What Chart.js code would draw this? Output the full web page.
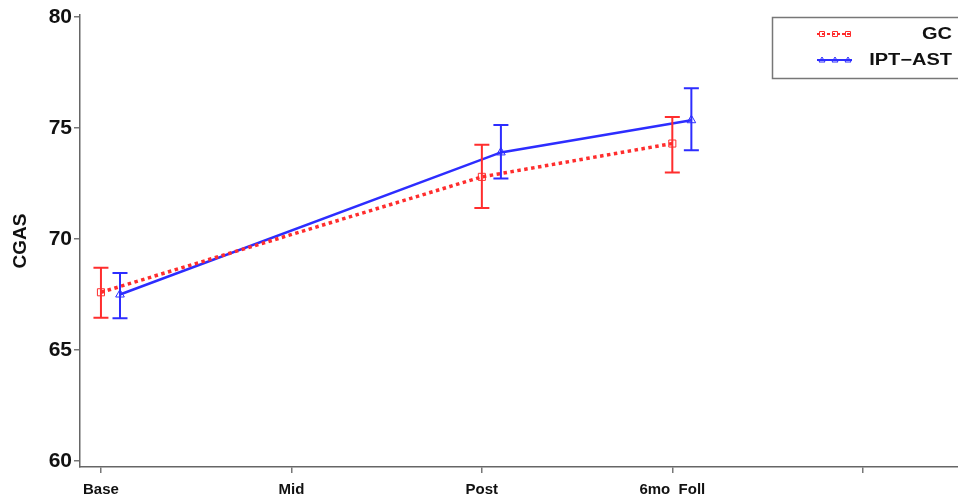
<!DOCTYPE html>
<html>
<head>
<meta charset="utf-8">
<script src="https://cdn.jsdelivr.net/npm/chart.js@4/dist/chart.umd.min.js"></script>
<style>
  html, body { margin: 0; padding: 0; background: #fff; }
  #wrap { width: 958px; height: 504px; }
</style>
</head>
<body>
<div id="wrap"><canvas id="chart" width="958" height="504"></canvas></div>
<script>
(function () {
    // categories on the x axis (last tick has no label)
    const categories = ['Base', 'Mid', 'Post', '6mo  Foll', ''];
    const timeIndex = [0, 2, 3];
    const yTicks = [60, 65, 70, 75, 80];

    // GC group
    const gcMean = [67.6, 72.8, 74.3];
    const gcLower = [66.45, 71.4, 73.0];
    const gcUpper = [68.7, 74.25, 75.5];

    // IPT-AST group
    const iptMean = [67.5, 73.9, 75.35];
    const iptLower = [66.43, 72.73, 74.0];
    const iptUpper = [68.47, 75.14, 76.79];

    const RED = 'rgb(255,45,45)';
    const BLUE = 'rgb(45,45,255)';
    const dodge = 0.1; // blue group drawn slightly to the right

    function points(means, shift) {
        return timeIndex.map((t, i) => ({x: t + shift, y: means[i]}));
    }

    // error bars drawn through the chart's own scales
    const errorBars = {
        id: 'errorBars',
        afterDatasetsDraw(chart) {
            const ctx = chart.ctx;
            const xs = chart.scales.x, ys = chart.scales.y;
            chart.data.datasets.forEach(ds => {
                ctx.save();
                ctx.strokeStyle = ds.borderColor;
                ctx.lineWidth = 2;
                ds.lower.forEach((lo, i) => {
                    const x = xs.getPixelForValue(ds.data[i].x);
                    const y1 = ys.getPixelForValue(lo);
                    const y2 = ys.getPixelForValue(ds.upper[i]);
                    ctx.beginPath();
                    ctx.moveTo(x, y1); ctx.lineTo(x, y2);
                    ctx.moveTo(x - 7.5, y1); ctx.lineTo(x + 7.5, y1);
                    ctx.moveTo(x - 7.5, y2); ctx.lineTo(x + 7.5, y2);
                    ctx.stroke();
                });
                ctx.restore();
            });
        }
    };

    // boxed legend at top right
    const boxLegend = {
        id: 'boxLegend',
        afterDraw(chart) {
            const ctx = chart.ctx;
            ctx.save();
            ctx.strokeStyle = '#777';
            ctx.lineWidth = 1.5;
            ctx.strokeRect(772.5, 17.5, 200, 61);
            const rows = [
                {label: 'GC', color: RED, dash: [3, 2], y: 34, marker: 'rect'},
                {label: 'IPT\u2212AST', color: BLUE, dash: [], y: 60, marker: 'tri'}
            ];
            rows.forEach(r => {
                ctx.strokeStyle = r.color;
                ctx.lineWidth = 2;
                ctx.setLineDash(r.dash);
                ctx.beginPath();
                ctx.moveTo(817, r.y); ctx.lineTo(852, r.y);
                ctx.stroke();
                ctx.setLineDash([]);
                ctx.lineWidth = 1;
                [822, 835, 848].forEach(mx => {
                    ctx.beginPath();
                    if (r.marker === 'rect') {
                        ctx.rect(mx - 2.5, r.y - 2.5, 5, 5);
                    } else {
                        ctx.moveTo(mx, r.y - 3); ctx.lineTo(mx + 3, r.y + 2); ctx.lineTo(mx - 3, r.y + 2); ctx.closePath();
                    }
                    ctx.stroke();
                });
                ctx.save();
                ctx.translate(952, r.y);
                ctx.scale(1.25, 1);
                ctx.fillStyle = '#111';
                ctx.font = 'bold 16px "Liberation Sans", Arial, sans-serif';
                ctx.textAlign = 'right';
                ctx.textBaseline = 'middle';
                ctx.fillText(r.label, 0, 1);
                ctx.restore();
            });
            ctx.restore();
        }
    };

    new Chart(document.getElementById('chart'), {
        type: 'line',
        data: {
            datasets: [
                {
                    label: 'GC',
                    data: points(gcMean, 0),
                    lower: gcLower,
                    upper: gcUpper,
                    borderColor: RED,
                    backgroundColor: 'rgba(255,255,255,0)',
                    borderWidth: 3.5,
                    borderDash: [3.5, 3.5],
                    pointStyle: 'rect',
                    pointRadius: 5,
                    pointBorderWidth: 1,
                },
                {
                    label: 'IPT-AST',
                    data: points(iptMean, dodge),
                    lower: iptLower,
                    upper: iptUpper,
                    borderColor: BLUE,
                    backgroundColor: 'rgba(255,255,255,0)',
                    borderWidth: 2.5,
                    pointStyle: 'triangle',
                    pointRadius: 5,
                    pointBorderWidth: 1,
                }
            ]
        },
        options: {
            responsive: false,
            animation: false,
            layout: {autoPadding: false, padding: {top: 15, right: 0, left: 0, bottom: 0}},
            plugins: {
                legend: {display: false},
                tooltip: {enabled: false},
            },
            scales: {
                x: {
                    type: 'linear',
                    min: -0.11,
                    max: 4.5,
                    afterBuildTicks: s => { s.ticks = categories.map((c, i) => ({value: i})); },
                    afterFit: s => { s.height = 37; s.paddingRight = 0; s.paddingLeft = 0; },
                    grid: {drawOnChartArea: false, tickLength: 6, color: '#777', lineWidth: 1.5},
                    border: {color: '#666', width: 1.5},
                    ticks: {
                        autoSkip: false,
                        maxRotation: 0,
                        padding: 8,
                        color: '#111',
                        font: {family: '"Liberation Sans", Arial, sans-serif', size: 15, weight: 'bold'},
                        callback: v => categories[v] ?? '',
                    },
                },
                y: {
                    min: 59.73,
                    max: 80.09,
                    afterBuildTicks: s => { s.ticks = yTicks.map(v => ({value: v})); },
                    afterFit: s => { s.width = 80; },
                    grid: {drawOnChartArea: false, tickLength: 6, color: '#777', lineWidth: 1.5},
                    border: {color: '#666', width: 1.5},
                    title: {
                        display: true,
                        text: 'CGAS',
                        color: '#111',
                        padding: {top: 9, bottom: 0},
                        font: {family: '"Liberation Sans", Arial, sans-serif', size: 19, weight: 'bold'},
                    },
                    ticks: {
                        padding: 2,
                        color: '#111',
                        font: {family: '"Liberation Sans", Arial, sans-serif', size: 21, weight: 'bold'},
                    },
                },
            },
        },
        plugins: [errorBars, boxLegend],
    });
})();
</script>
</body>
</html>
